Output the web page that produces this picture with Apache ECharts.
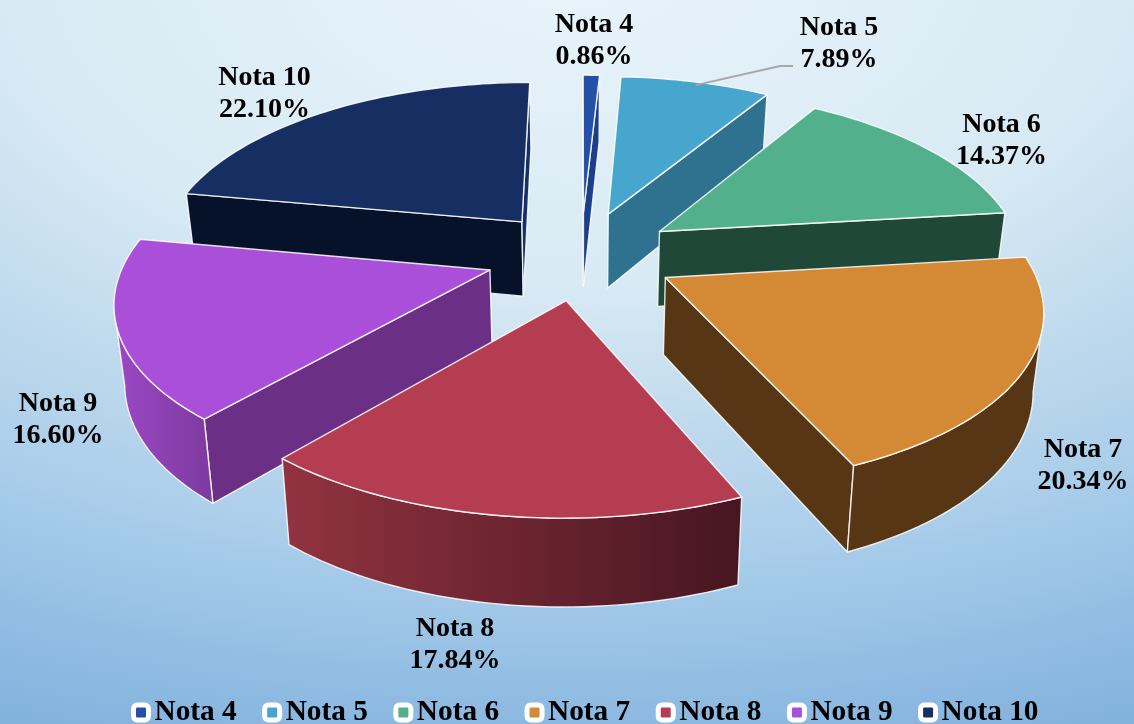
<!DOCTYPE html>
<html><head><meta charset="utf-8">
<style>html,body{margin:0;padding:0}
body{width:1134px;height:724px;overflow:hidden;background:radial-gradient(ellipse 1400px 800px at 50% -36px,#e9f4fa 0%,#d8eaf4 40%,#c0daed 58%,#a9cdea 75%,#94bfe4 89%,#82b1dd 103%)}
#c{width:1134px;height:724px}</style>
<script src="https://cdn.jsdelivr.net/npm/echarts@6/dist/echarts.min.js"></script>
</head><body><div id="c"></div>
<script>
const categories = ['Nota 4','Nota 5','Nota 6','Nota 7','Nota 8','Nota 9','Nota 10'];
const percents = [0.86,7.89,14.37,20.34,17.84,16.60,22.10];
const topColors = ['#2450a8','#46a6ce','#52b08c','#d48935','#b53d52','#a94fd9','#162e62'];
const startWall = ['#1d3f8a','#2f7290','#1f4838','#573615','#6e2632','#6b2f85','#05122a'];
const endWall   = ['#1d3f8a','#2f7290','#1f4838','#573615','#6e2632','#6b2f85','#14306a'];
const rimLeft   = ['#1d3f8a','#2f7290','#1f4838','#573615','#923340','#9c48c4','#05122a'];
const rimRight  = ['#1d3f8a','#2f7290','#1f4838','#573615','#461620','#7c3a9e','#05122a'];
const labelAnchors = [[594,41],[839,44],[1001.5,141],[1083,466],[455,645],[58,420],[264.5,94]];

// projection parameters
const CX=581, CY=255, RX=363.5, RY=169.5, EXPLODE=0.262, PERSP=0.15, PERSP_X=0.157, DEPTH=76, PERSP_D=0.115, BOTTOM_X=0.977;

const total = percents.reduce((a,b)=>a+b,0);
const rad = Math.PI/180;
let acc = 0;
const spans = percents.map(p=>{const s=acc/total*360; acc+=p; return [s,acc/total*360];});

function project(thetaDeg, r, midDeg, low){
  const m=midDeg*rad, t=thetaDeg*rad;
  const X=EXPLODE*Math.sin(m)+r*Math.sin(t), Y=EXPLODE*Math.cos(m)+r*Math.cos(t);
  const x=RX*X/(1+PERSP_X*Y), y=-RY*Y/(1+PERSP*Y);
  return low ? [CX+x*BOTTOM_X, CY+y+DEPTH/(1+PERSP_D*Y)] : [CX+x, CY+y];
}
function area(pts){let s=0;for(let i=0;i<pts.length;i++){const a=pts[i],b=pts[(i+1)%pts.length];s+=a[0]*b[1]-b[0]*a[1];}return s;}
const stroke={stroke:'rgba(255,255,255,0.85)',lineWidth:1.4,lineJoin:'round'};

function renderSlice(i){
  const [s,e]=spans[i], mid=(s+e)/2;
  const steps=Math.max(4,Math.ceil((e-s)/1.5));
  const topArc=[],lowArc=[];
  for(let k=0;k<=steps;k++){const t=s+(e-s)*k/steps;topArc.push(project(t,1,mid,false));lowArc.push(project(t,1,mid,true));}
  const aT=project(0,0,mid,false), aB=project(0,0,mid,true);
  const children=[];
  const startPoly=[aT,topArc[0],lowArc[0],aB];
  const endPoly=[aT,topArc[steps],lowArc[steps],aB];
  if(area(startPoly)<0) children.push({type:'polygon',shape:{points:startPoly},style:Object.assign({fill:startWall[i]},stroke)});
  if(area(endPoly)>0) children.push({type:'polygon',shape:{points:endPoly},style:Object.assign({fill:endWall[i]},stroke)});
  let run=[];
  for(let k=0;k<steps;k++){
    if(topArc[k+1][0]<topArc[k][0]){ if(!run.length) run.push(k); run.push(k+1); }
  }
  if(run.length>1){
    const up=run.map(k=>topArc[k]), lo=run.map(k=>lowArc[k]).reverse();
    const poly=up.concat(lo);
    children.push({type:'polygon',shape:{points:poly},style:Object.assign({
      fill:new echarts.graphic.LinearGradient(0,0,1,0,[{offset:0,color:rimLeft[i]},{offset:1,color:rimRight[i]}])
    },stroke)});
  }
  children.push({type:'polygon',shape:{points:[aT].concat(topArc)},style:Object.assign({fill:topColors[i]},stroke)});
  if(categories[i]==='Nota 5'){
    const p=project(s+(e-s)*0.5,1,mid,false);
    children.push({type:'polyline',shape:{points:[[p[0],p[1]+3],[780,66],[793,66]]},style:{stroke:'#a6a6a6',lineWidth:1.8,fill:null}});
  }
  children.push({type:'text',style:{
    x:labelAnchors[i][0],y:labelAnchors[i][1],
    text:categories[i]+'\n'+percents[i].toFixed(2)+'%',
    fill:'#000',font:'bold 28px "Liberation Serif"',lineHeight:32.5,align:'center',verticalAlign:'middle'}});
  return {type:'group',children};
}

const chart=echarts.init(document.getElementById('c'),null,{renderer:'canvas'});
const backness=spans.map(([s,e])=>Math.cos((s+e)/2*rad));
const ranks=backness.map((b)=>backness.filter(o=>o>b).length);
chart.setOption({
  animation:false,
  legend:{
    data:categories,left:126,top:693,itemWidth:15,itemHeight:15,itemGap:25.5,icon:'roundRect',
    itemStyle:{borderColor:'#fff',borderWidth:5},
    textStyle:{color:'#000',fontFamily:'Liberation Serif',fontWeight:'bold',fontSize:29.3,padding:[0,0,0,1]},
    selectedMode:false
  },
  series:categories.map((name,i)=>({
    type:'custom',name,coordinateSystem:'none',z:2+ranks[i],silent:true,
    itemStyle:{color:topColors[i]},
    data:[[percents[i]]],
    renderItem:()=>renderSlice(i)
  }))
});
</script></body></html>
